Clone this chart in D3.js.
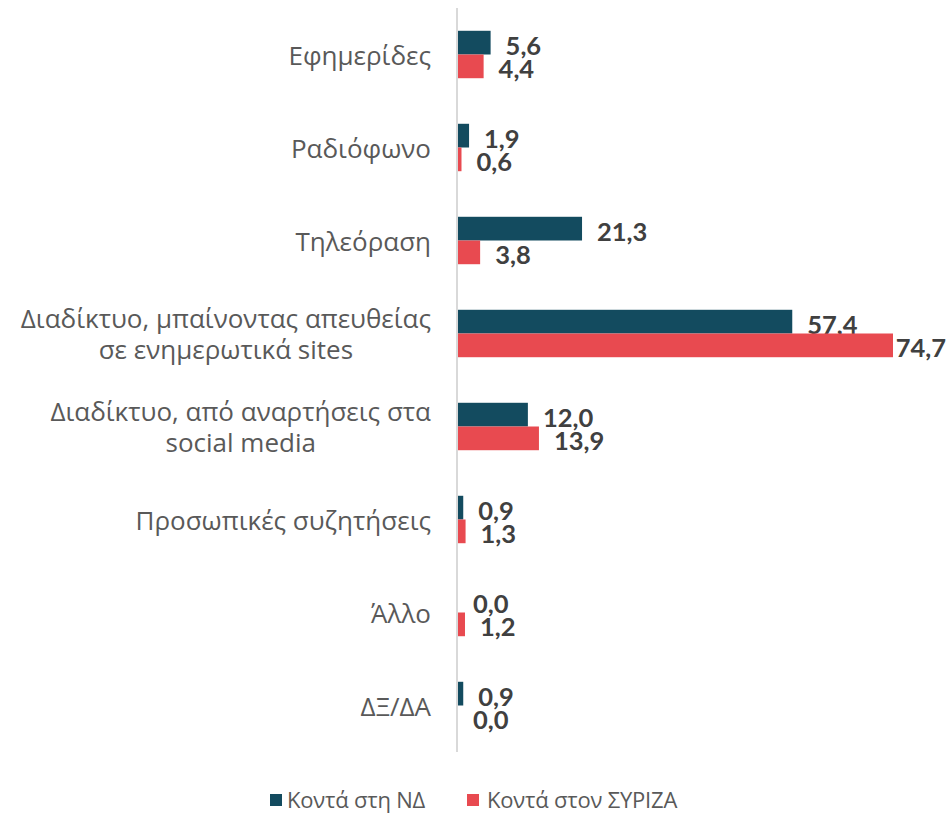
<!DOCTYPE html>
<html><head><meta charset="utf-8">
<script src="https://cdn.jsdelivr.net/npm/d3@7"></script>
<style>body{margin:0;background:#fff}svg{display:block}</style>
</head><body>
<svg id="c" width="949" height="814"></svg>
<script>
const categories = [
  ["Εφημερίδες"],
  ["Ραδιόφωνο"],
  ["Τηλεόραση"],
  ["Διαδίκτυο, μπαίνοντας απευθείας","σε ενημερωτικά sites"],
  ["Διαδίκτυο, από αναρτήσεις στα","social media"],
  ["Προσωπικές συζητήσεις"],
  ["Άλλο"],
  ["ΔΞ/ΔΑ"]
];
const seriesNames = ["Κοντά στη ΝΔ","Κοντά στον ΣΥΡΙΖΑ"];
const valuesND = [5.6,1.9,21.3,57.4,12.0,0.9,0.0,0.9];
const valuesSYRIZA = [4.4,0.6,3.8,74.7,13.9,1.3,1.2,0.0];
const colors = ["#134b5f","#e84a50"];

const svg = d3.select("#c");
const font = "'Open Sans', Lato, sans-serif";
const numFont = "Lato, 'Open Sans', sans-serif";
const x0 = 458;
const x = d3.scaleLinear().domain([0,74.7]).range([x0,893]);
const y = d3.scaleBand().domain(d3.range(categories.length)).range([8,752]).paddingInner(0.49).paddingOuter(0.245);
const series = [valuesND, valuesSYRIZA];
const ySub = d3.scaleBand().domain([0,1]).range([0,y.bandwidth()]);

// axis line
svg.append("line").attr("x1",x0-1).attr("x2",x0-1).attr("y1",8).attr("y2",752)
  .attr("stroke","#d9d9d9").attr("stroke-width",2);

series.forEach((vals,si)=>{
  const g = svg.append("g");
  g.selectAll("rect").data(vals).join("rect")
    .attr("x",x0).attr("y",(d,i)=>y(i)+ySub(si))
    .attr("width",d=>x(d)-x0).attr("height",ySub.bandwidth())
    .attr("fill",colors[si]);
  g.selectAll("text").data(vals).join("text")
    .attr("y",(d,i)=>y(i)+ySub(si)+ySub.bandwidth()/2+2)
    .attr("dominant-baseline","central")
    .attr("font-family",numFont).attr("font-weight","bold").attr("font-size",25.5)
    .attr("fill","#404040")
    .text(d=>d.toFixed(1).replace(".",","))
    .each(function(d){
      const w = this.getComputedTextLength();
      d3.select(this).attr("x", Math.min(x(d)+15, 946-w));
    });
});

// category labels
const cg = svg.append("g");
categories.forEach((lines,i)=>{
  const cy = y(i)+y.bandwidth()/2;
  const t = cg.append("text").attr("font-family",font).attr("font-size",26).attr("fill","#595959")
    .attr("text-anchor","middle").attr("dominant-baseline","central");
  const lh = 31;
  lines.forEach((l,j)=>{
    t.append("tspan").attr("y", cy + (j-(lines.length-1)/2)*lh).text(l);
  });
  let w = 0;
  t.selectAll("tspan").each(function(){ w = Math.max(w,this.getComputedTextLength()); });
  t.selectAll("tspan").attr("x", 431 - w/2);
});

// legend
const legend = [{x:270,tx:287},{x:467,tx:487}];
seriesNames.forEach((n,i)=>{
  svg.append("rect").attr("x",legend[i].x).attr("y",794).attr("width",12).attr("height",12).attr("fill",colors[i]);
  svg.append("text").attr("x",legend[i].tx).attr("y",799).attr("dominant-baseline","central")
    .attr("font-family",font).attr("font-size",22).attr("letter-spacing",-0.2).attr("fill","#595959").text(n);
});
</script>
</body></html>
